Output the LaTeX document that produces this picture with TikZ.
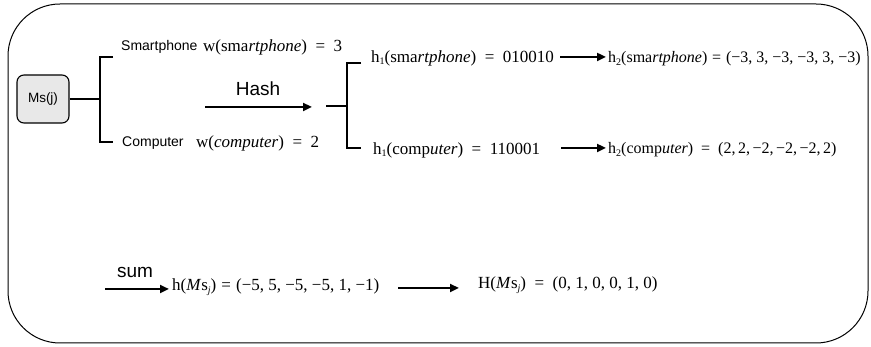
\documentclass[tikz,border=0pt]{standalone}
\usepackage{fontspec}
\setmainfont{Liberation Serif}
\setsansfont{Liberation Sans}
\usetikzlibrary{arrows.meta}
\newcommand{\mn}{−}
\newcommand{\eqw}{\hspace{0.5em}=\hspace{0.5em}}
\newcommand{\eqn}{\hspace{0.3em}=\hspace{0.3em}}
\newcommand{\cm}{,\kern2.5pt}
\newcommand{\sbs}[1]{\raisebox{-0.35ex}{\fontsize{10}{11}\selectfont #1}}
\begin{document}
\begin{tikzpicture}[x=1pt,y=-1pt]
\tikzset{
 lab/.style={font=\sffamily\fontsize{14}{16}\selectfont, inner sep=0pt, anchor=west},
 eq/.style={font=\fontsize{17}{19}\selectfont, inner sep=0pt, anchor=west},
 eqs/.style={font=\fontsize{16}{18}\selectfont, inner sep=0pt, anchor=west},
 big/.style={font=\sffamily\fontsize{19}{22}\selectfont, inner sep=0pt},
 arr/.style={line width=2.4pt, -{Triangle[length=9pt,width=8pt]}},
 bracestyle/.style={line width=1.8pt},
 msbox/.style={draw, line width=1.1pt, rounded corners=7pt, fill=gray!18, minimum width=52pt, minimum height=48pt, inner sep=0pt, font=\sffamily\fontsize{13.5}{15}\selectfont},
 frame/.style={line width=1pt, rounded corners=52pt}
}
\useasboundingbox (0,0) rectangle (871,347);
\draw[frame] (8,4) rectangle (868,343);

% left part
\node[msbox] (ms) at (43,99) {Ms(j)};
\coordinate (b1m) at (100,99);
\draw[bracestyle] (ms.east) -- (b1m);
\draw[bracestyle] (113,57) -- (100,57) -- (100,142) -- (113,142);

\node[lab] (sp) at (121,47) {Smartphone};
\node[eq] (wsp) at (203,47) {w(sma\textit{rtphone})\eqw3};
\node[lab] (co) at (122,143) {Computer};
\node[eq] (wco) at (196,143) {w(\textit{computer})\eqw2};

% hash arrow
\node[big] (hash) at (258,89) {Hash};
\coordinate (ha) at (205,107);
\coordinate (hb) at (312,107);
\draw[arr] (ha) -- (hb);

% right brace
\coordinate (b2m) at (326,106);
\draw[bracestyle] (b2m) -- (347,106);
\draw[bracestyle] (361,63) -- (347,63) -- (347,148) -- (361,148);

% h1 / h2 rows
\node[eq] (h1s) at (371,58) {h\sbs{1}(sma\textit{rtphone})\eqw010010};
\coordinate (a1s) at (560,57);
\coordinate (a1e) at (606,57);
\draw[arr] (a1s) -- (a1e);
\node[eqs] (h2s) at (608,59) {h\sbs{2}(sma\textit{rtphone})\eqn(\mn3, 3, \mn3, \mn3, 3, \mn3)};

\node[eq] (h1c) at (373,150) {h\sbs{1}(comp\textit{uter})\eqw110001};
\coordinate (a2s) at (561,148);
\coordinate (a2e) at (606,148);
\draw[arr] (a2s) -- (a2e);
\node[eqs] (h2c) at (608,150) {h\sbs{2}(comp\textit{uter})\eqw(2\cm2\cm\mn2\cm\mn2\cm\mn2\cm2)};

% bottom row
\node[big] (sum) at (135,272) {sum};
\coordinate (s1) at (105,289);
\coordinate (s2) at (169,289);
\draw[arr] (s1) -- (s2);
\node[eq] (hms) at (172,287) {h(\textit{M}s\sbs{\textit{j}})\eqn(\mn5, 5, \mn5, \mn5, 1, \mn1)};
\coordinate (t1) at (398,288);
\coordinate (t2) at (459,288);
\draw[arr] (t1) -- (t2);
\node[eq] (Hms) at (478,285) {H(\textit{M}s\sbs{\textit{j}})\eqw(0, 1, 0, 0, 1, 0)};
\end{tikzpicture}
\end{document}
